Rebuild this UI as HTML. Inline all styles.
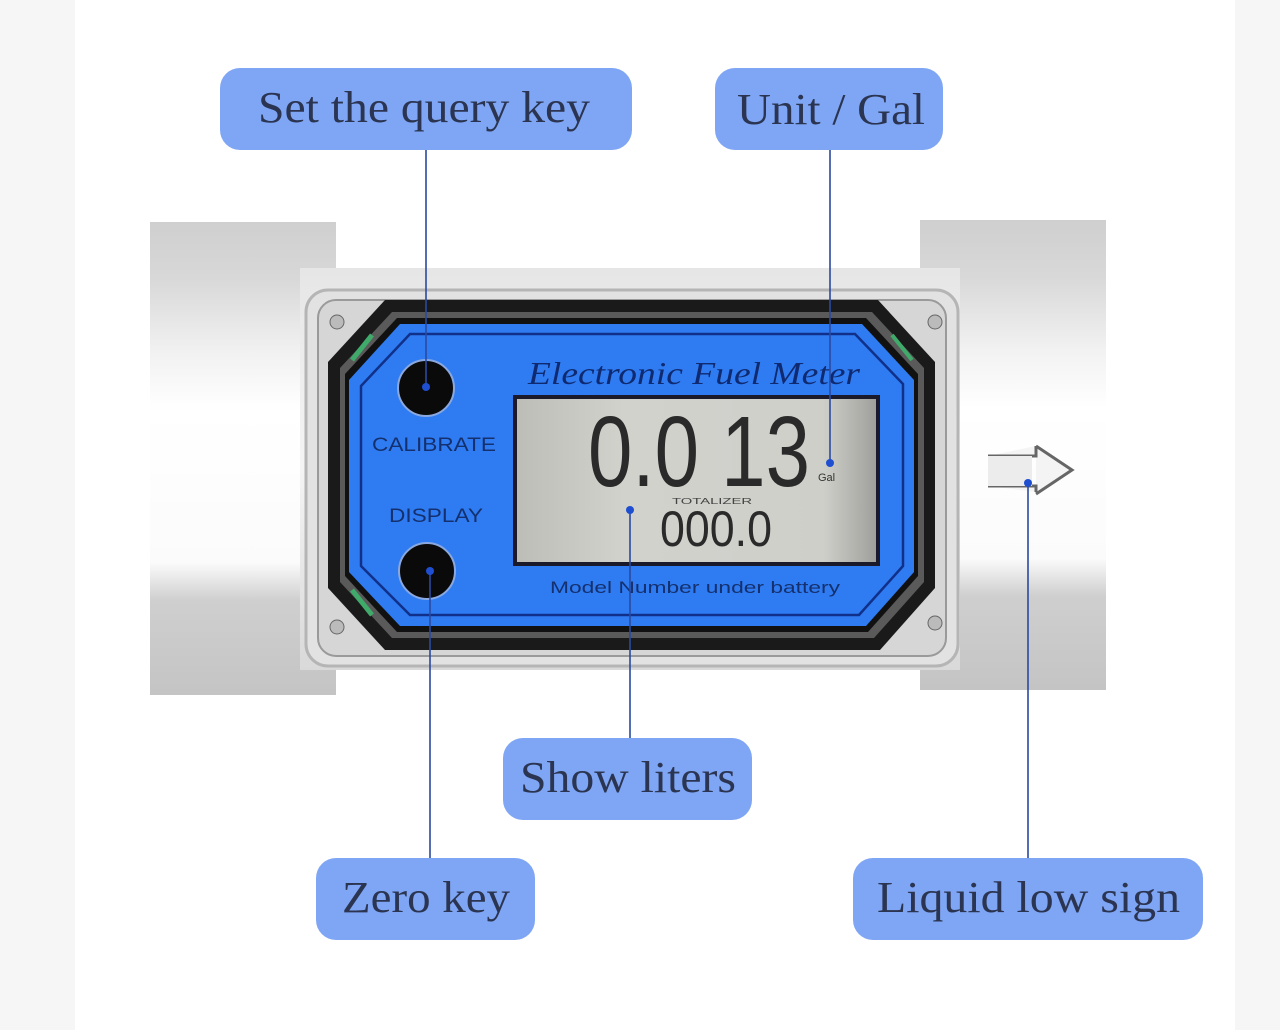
<!DOCTYPE html>
<html><head><meta charset="utf-8"><style>
html,body{margin:0;padding:0;background:#f6f6f6;}
svg{display:block}
</style></head><body>
<svg width="1280" height="1030" viewBox="0 0 1280 1030" xmlns="http://www.w3.org/2000/svg">
<defs>
<linearGradient id="fit" x1="0" y1="0" x2="0" y2="1">
<stop offset="0" stop-color="#cfcfcf"/><stop offset="0.12" stop-color="#d8d8d8"/>
<stop offset="0.28" stop-color="#f2f2f2"/><stop offset="0.4" stop-color="#ffffff"/>
<stop offset="0.72" stop-color="#fbfbfb"/><stop offset="0.8" stop-color="#cfcfcf"/>
<stop offset="1" stop-color="#c4c4c4"/></linearGradient>
<linearGradient id="body" x1="0" y1="0" x2="0" y2="1">
<stop offset="0" stop-color="#e6e6e6"/><stop offset="0.5" stop-color="#f4f4f4"/><stop offset="1" stop-color="#d9d9d9"/></linearGradient>
<linearGradient id="lcd" x1="0" y1="0" x2="1" y2="0">
<stop offset="0" stop-color="#bdbdb8"/><stop offset="0.3" stop-color="#d2d2cd"/><stop offset="0.85" stop-color="#cfcfca"/><stop offset="1" stop-color="#9e9e9a"/></linearGradient>
</defs>
<rect x="75" y="0" width="1160" height="1030" fill="#ffffff"/>
<!-- fittings -->
<rect x="150" y="222" width="186" height="473" fill="url(#fit)"/>
<rect x="920" y="220" width="186" height="470" fill="url(#fit)"/>
<rect x="300" y="268" width="660" height="402" fill="url(#body)"/>
<!-- clear housing -->
<rect x="306" y="290" width="652" height="376" rx="22" fill="#e2e2e2" stroke="#b5b5b5" stroke-width="3"/>
<rect x="318" y="300" width="628" height="356" rx="18" fill="#d6d6d6" stroke="#9a9a9a" stroke-width="2"/>
<!-- screws -->
<circle cx="337" cy="322" r="7" fill="#bbb" stroke="#666"/><circle cx="337" cy="627" r="7" fill="#bbb" stroke="#666"/>
<circle cx="935" cy="322" r="7" fill="#bbb" stroke="#666"/><circle cx="935" cy="623" r="7" fill="#bbb" stroke="#666"/>
<!-- black gasket -->
<polygon points="385,300 878,300 935,362 935,588 880,650 385,650 328,588 328,362" fill="#1a1a1a"/>
<polygon points="392,312 872,312 924,368 924,582 874,638 392,638 340,582 340,368" fill="#5a5a5a"/>
<polygon points="397,318 866,318 918,374 918,576 868,632 397,632 345,576 345,374" fill="#111"/>
<!-- green bits -->
<path d="M352 360 L372 335" stroke="#3faa6a" stroke-width="5"/><path d="M352 590 L372 615" stroke="#3faa6a" stroke-width="5"/>
<path d="M912 360 L892 335" stroke="#3faa6a" stroke-width="4"/>
<!-- blue panel -->
<polygon points="400,324 862,324 914,380 914,572 866,626 400,626 349,572 349,380" fill="#2f7cf2"/>
<polygon points="410,334 855,334 903,384 903,566 859,615 410,615 361,566 361,386" fill="none" stroke="#10308a" stroke-width="2.5"/>
<!-- buttons -->
<circle cx="426" cy="388" r="28" fill="#0a0a0a" stroke="#8aa8e0" stroke-width="2"/>
<circle cx="427" cy="571" r="28" fill="#0a0a0a" stroke="#8aa8e0" stroke-width="2"/>
<text x="434" y="451" font-family="Liberation Sans, sans-serif" font-size="19" fill="#14306e" text-anchor="middle" textLength="124" lengthAdjust="spacingAndGlyphs">CALIBRATE</text>
<text x="436" y="522" font-family="Liberation Sans, sans-serif" font-size="19" fill="#14306e" text-anchor="middle" textLength="94" lengthAdjust="spacingAndGlyphs">DISPLAY</text>
<text x="528" y="384" font-family="Liberation Serif, serif" font-style="italic" font-size="32" fill="#0f2a70" textLength="332" lengthAdjust="spacingAndGlyphs">Electronic Fuel Meter</text>
<!-- LCD -->
<rect x="515" y="397" width="363" height="167" fill="url(#lcd)" stroke="#1a1a2a" stroke-width="4"/>
<text x="588" y="486" font-family="Liberation Sans, sans-serif" font-size="100" fill="#2a2a2a" textLength="222" lengthAdjust="spacingAndGlyphs" transform="translate(0,0)">0.0 13</text>
<text x="818" y="481" font-family="Liberation Sans, sans-serif" font-size="11" fill="#333">Gal</text>
<text x="672" y="504" font-family="Liberation Sans, sans-serif" font-size="8" fill="#444" textLength="80" lengthAdjust="spacingAndGlyphs">TOTALIZER</text>
<text x="660" y="546" font-family="Liberation Sans, sans-serif" font-size="50" fill="#2a2a2a" textLength="112" lengthAdjust="spacingAndGlyphs">000.0</text>
<text x="550" y="593" font-family="Liberation Sans, sans-serif" font-size="17" fill="#14306e" textLength="290" lengthAdjust="spacingAndGlyphs">Model Number under battery</text>
<!-- arrow on fitting -->
<path d="M988 456 L1036 456 L1036 446 M988 486 L1036 486 L1036 492 M1036 446 L1072 470 L1036 494" fill="#f4f4f4" stroke="#666" stroke-width="3"/>
<rect x="988" y="456" width="44" height="30" fill="#ececec"/>
<!-- connector lines -->
<g stroke="#2a4aa0" stroke-width="1.6" fill="none">
<line x1="426" y1="150" x2="426" y2="387"/>
<line x1="430" y1="571" x2="430" y2="858"/>
<line x1="830" y1="150" x2="830" y2="463"/>
<line x1="630" y1="510" x2="630" y2="738"/>
<line x1="1028" y1="483" x2="1028" y2="858"/>
</g>
<g fill="#1f4fd0">
<circle cx="426" cy="387" r="4"/><circle cx="430" cy="571" r="4"/><circle cx="830" cy="463" r="4"/>
<circle cx="630" cy="510" r="4"/><circle cx="1028" cy="483" r="4"/>
</g>
<!-- labels -->
<g fill="#7fa6f4">
<rect x="220" y="68" width="412" height="82" rx="20"/>
<rect x="715" y="68" width="228" height="82" rx="20"/>
<rect x="503" y="738" width="249" height="82" rx="20"/>
<rect x="316" y="858" width="219" height="82" rx="20"/>
<rect x="853" y="858" width="350" height="82" rx="20"/>
</g>
<g font-family="Liberation Serif, serif" font-size="44" fill="#2b3552">
<text x="258" y="122" textLength="332" lengthAdjust="spacingAndGlyphs">Set the query key</text>
<text x="737" y="124" textLength="188" lengthAdjust="spacingAndGlyphs">Unit / Gal</text>
<text x="520" y="792" textLength="216" lengthAdjust="spacingAndGlyphs">Show liters</text>
<text x="342" y="912" textLength="168" lengthAdjust="spacingAndGlyphs">Zero key</text>
<text x="877" y="912" textLength="303" lengthAdjust="spacingAndGlyphs">Liquid low sign</text>
</g>
</svg>
</body></html>
